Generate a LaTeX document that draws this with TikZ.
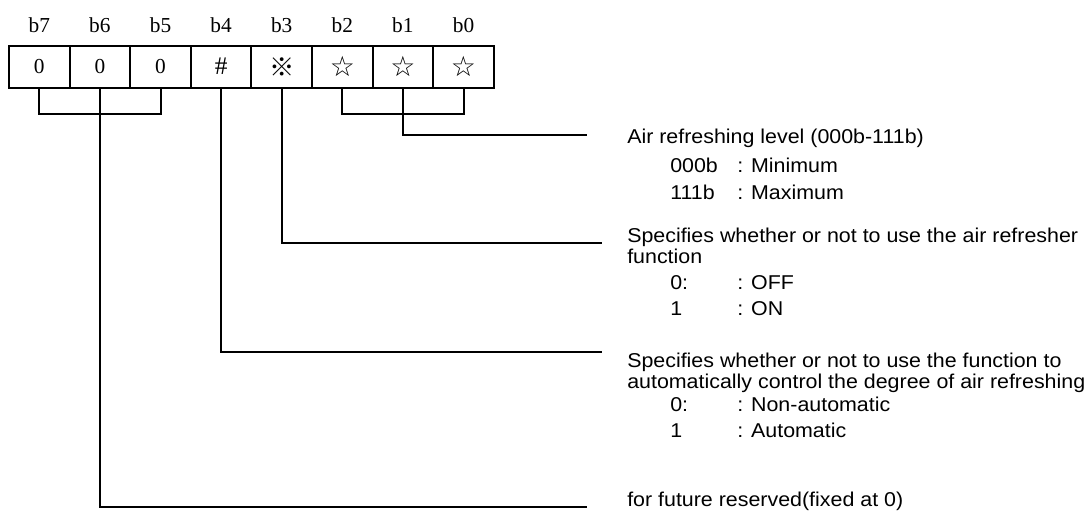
\documentclass[tikz,border=0pt]{standalone}
\usepackage{fontspec}
\newfontfamily\descfont{Liberation Sans}[FakeStretch=1.07]
\newfontfamily\bitfont{Liberation Serif}
\newfontfamily\symfont{Noto Sans CJK JP}
\newfontfamily\starfont{DejaVu Sans}
\newcommand\refmark{{\symfont\fontsize{19}{19}\selectfont ※}}
\newcommand\wstar{{\starfont\fontsize{21}{21}\selectfont ☆}}
\usetikzlibrary{positioning}

\tikzset{
  bitcell/.style = {draw, line width=1.5pt, minimum width=45.45pt,
    minimum height=31.5pt, inner sep=0pt, font=\bitfont\fontsize{16}{18}\selectfont},
  bitname/.style = {inner sep=0pt, font=\bitfont\fontsize{16}{18}\selectfont},
  desc/.style = {anchor=base west, inner sep=0pt,
    font=\descfont\fontsize{15}{18}\selectfont},
  conn/.style = {line width=1.5pt},
}

\begin{document}
\begin{tikzpicture}[x=0.75pt,y=-0.75pt]
	\useasboundingbox (0,0) rectangle (1089,511);
	% the register, b7 ... b0
	\foreach \b/\t [count=\k from 0] in {7/0,6/0,5/0,4/{\fontsize{19}{19}\selectfont\#},3/\refmark,2/\wstar,1/\wstar,0/\wstar} {
		\node[bitcell] (c\b) at (39.3+60.6*\k,66.7) {\t};
		\node[bitname, above=9pt of c\b] (n\b) {b\b};
	}
	% brackets
	\draw[conn] (c7.south) -- ++(0,25) -| (c5.south);
	\draw[conn] (c2.south) -- ++(0,25) -| (c0.south);
	% free ends of the leaders
	\coordinate (e1) at (587,135);
	\coordinate (e2) at (602,243);
	\coordinate (e3) at (602,352);
	\coordinate (e4) at (587,507);
	\draw[conn] (c1.south) |- (e1);
	\draw[conn] (c3.south) |- (e2);
	\draw[conn] (c4.south) |- (e3);
	\draw[conn] (c6.south) |- (e4);
	% descriptions
	\node[desc] (lvl) at (627,143) {Air refreshing level (000b-111b)};
	\node[desc] (use) at (627,242) {Specifies whether or not to use the air refresher};
	\node[desc] (use2) at (627,263) {function};
	\node[desc] (auto) at (627,367) {Specifies whether or not to use the function to};
	\node[desc] (auto2) at (627,388) {automatically control the degree of air refreshing};
	\node[desc] (rsv) at (627,506) {for future reserved(fixed at 0)};
	\foreach \y/\v/\m in {172/000b/Minimum,199/111b/Maximum,289/0:/OFF,315/1/ON,
	  411/0:/Non-automatic,437/1/Automatic} {
		\node[desc] (v\y) at (670,\y) {\v};
		\node[desc] (m\y) at (737,\y) {: \m};
	}
\end{tikzpicture}
\end{document}
